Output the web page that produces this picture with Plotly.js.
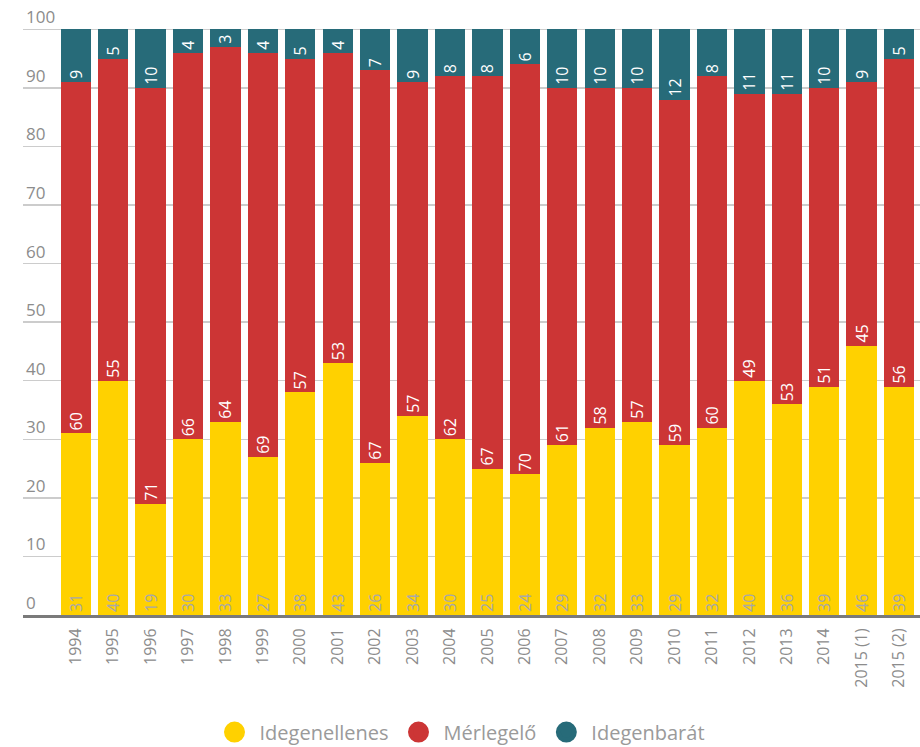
<!DOCTYPE html>
<html>
<head>
<meta charset="utf-8">
<script src="https://cdn.plot.ly/plotly-3.0.1.min.js"></script>
<style>html,body{margin:0;padding:0;background:#fff;}#chart{width:920px;height:747px;}</style>
</head>
<body>
<div id="chart"></div>
<script>
const categories = ["1994","1995","1996","1997","1998","1999","2000","2001","2002","2003","2004","2005","2006","2007","2008","2009","2010","2011","2012","2013","2014","2015 (1)","2015 (2)"];
const idegenellenes = [31,40,19,30,33,27,38,43,26,34,30,25,24,29,32,33,29,32,40,36,39,46,39];
const merlegelo = [60,55,71,66,64,69,57,53,67,57,62,67,70,61,58,57,59,60,49,53,51,45,56];
const idegenbarat = [9,5,10,4,3,4,5,4,7,9,8,8,6,10,10,10,12,8,11,11,10,9,5];
const seriesNames = ["Idegenellenes","Mérlegelő","Idegenbarát"];
const seriesColors = ["#FFD100","#CC3535","#276B79"];
const labelColors = ["#a8a8a8","#ffffff","#ffffff"];
const yTicks = [0,10,20,30,40,50,60,70,80,90,100];

const FONT = '"Open Sans", "DejaVu Sans", sans-serif';
const series = [idegenellenes, merlegelo, idegenbarat];
const data = series.map((vals, i) => ({
  type: 'bar',
  name: seriesNames[i],
  x: categories,
  y: vals,
  text: vals.map(String),
  textposition: 'inside',
  insidetextanchor: 'start',
  textangle: -90,
  constraintext: 'none',
  textfont: {family: FONT, size: 16, color: labelColors[i]},
  marker: {color: seriesColors[i], line: {width: 0}},
  showlegend: false,
  hoverinfo: 'x+y+name'
}));
// legend entries drawn as circles
seriesNames.forEach((n, i) => {
  data.push({
    type: 'scatter', mode: 'markers', name: n,
    x: [null], y: [null],
    marker: {color: seriesColors[i], size: 16, symbol: 'circle',
             line: {color: seriesColors[i], width: 5}},
    showlegend: true, hoverinfo: 'skip'
  });
});

const layout = {
  width: 920, height: 747,
  margin: {l: 23, r: 0, t: 0, b: 131.5},
  paper_bgcolor: '#ffffff', plot_bgcolor: '#ffffff',
  barmode: 'stack',
  bargap: 0.19,
  font: {family: FONT, color: '#8c8c8c'},
  xaxis: {
    type: 'category',
    range: [-1.41, 22.56],
    tickangle: -90,
    tickfont: {family: FONT, size: 16, color: '#8c8c8c'},
    showline: true, linecolor: '#7a7a7a', linewidth: 3,
    ticks: '', showgrid: false, zeroline: false,
    ticklabelstandoff: 4,
    fixedrange: true
  },
  yaxis: {
    range: [0, 105],
    tickvals: yTicks,
    ticktext: yTicks.map(String),
    ticklabelposition: 'inside top',
    tickfont: {family: FONT, size: 17, color: '#8c8c8c'},
    showgrid: true, gridcolor: '#cccccc', gridwidth: 1.5,
    zeroline: false, showline: false, ticks: '',
    fixedrange: true
  },
  legend: {
    orientation: 'h',
    traceorder: 'normal',
    xref: 'container', yref: 'container',
    x: 0.5, xanchor: 'center',
    y: 0.02, yanchor: 'middle',
    font: {family: FONT, size: 20, color: '#9a9a9a'},
    itemsizing: 'trace',
    itemwidth: 40
  },
  showlegend: true
};

Plotly.newPlot('chart', data, layout, {displayModeBar: false, staticPlot: true});
</script>
</body>
</html>
